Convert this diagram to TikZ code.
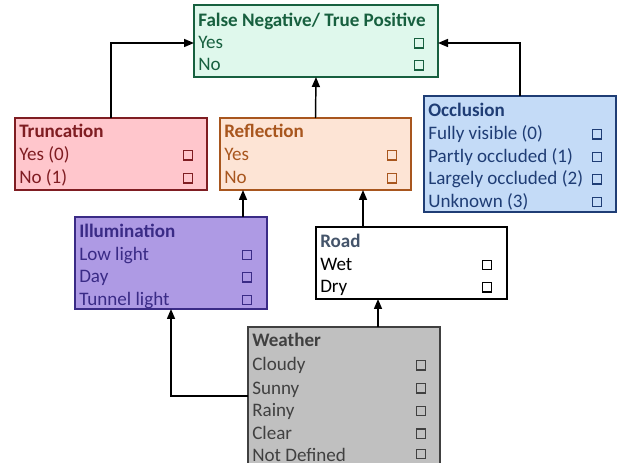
\documentclass[tikz,border=0pt]{standalone}
\usepackage{fontspec}
\setmainfont{Carlito}
\usetikzlibrary{arrows.meta,calc}
\definecolor{fnF}{HTML}{DFF8EC}
\definecolor{fnT}{HTML}{17603F}
\definecolor{trF}{HTML}{FFC6CC}
\definecolor{trT}{HTML}{7F1D22}
\definecolor{reF}{HTML}{FDE4D5}
\definecolor{reT}{HTML}{A8561E}
\definecolor{ilF}{HTML}{AE9AE4}
\definecolor{ilT}{HTML}{3A2B86}
\definecolor{ocF}{HTML}{C4DBF7}
\definecolor{ocT}{HTML}{1F3D75}
\definecolor{roT}{HTML}{44546A}
\definecolor{weF}{HTML}{C0C0C0}
\definecolor{weT}{HTML}{404040}
\newcommand\mkbox[6]{\node[box,#6,minimum width={(#4-#2)*0.75pt},minimum height={(#5-#3)*0.75pt}] (#1) at (#2,#3) {};}
\begin{document}
\begin{tikzpicture}[x=0.75pt,y=-0.75pt,
  box/.style={draw, line width=1.3pt, anchor=north west, inner sep=0pt, outer sep=0pt},
  txt/.style={anchor=base west, inner sep=0pt, font=\fontsize{14.3}{17}\selectfont},
  ttl/.style={anchor=base west, inner sep=0pt, font=\fontsize{14.3}{17}\selectfont\bfseries},
  chk/.style={draw, line width=1pt, minimum size=7pt, inner sep=0pt},
  arr/.style={line width=1.1pt, -{Triangle[length=7.5pt,width=6pt]}},
  con/.style={line width=1.1pt}]
\useasboundingbox (0,0) rectangle (625,463);
\clip (0,0) rectangle (625,463);

% False Negative / True Positive
\mkbox{fn}{194}{5}{438}{77}{draw=fnT,fill=fnF}
\node[ttl,text=fnT] (fnt) at (198,27) {False Negative/ True Positive};
\node[txt,text=fnT] (fn1) at (198,49) {Yes};
\node[txt,text=fnT] (fn2) at (198,71) {No};
\node[chk,draw=fnT] (fnc1) at (419,43.5) {};
\node[chk,draw=fnT] (fnc2) at (419,65.5) {};

% Truncation
\mkbox{tr}{15}{118}{207}{190}{draw=trT,fill=trF}
\node[ttl,text=trT] (trt) at (19,138) {Truncation};
\node[txt,text=trT] (tr1) at (19,161) {Yes (0)};
\node[txt,text=trT] (tr2) at (19,184) {No (1)};
\node[chk,draw=trT] (trc1) at (188,155.5) {};
\node[chk,draw=trT] (trc2) at (188,178.5) {};

% Reflection
\mkbox{re}{220}{118}{411}{190}{draw=reT,fill=reF}
\node[ttl,text=reT] (ret) at (224,138) {Reflection};
\node[txt,text=reT] (re1) at (224,161) {Yes};
\node[txt,text=reT] (re2) at (224,184) {No};
\node[chk,draw=reT] (rec1) at (392,155.5) {};
\node[chk,draw=reT] (rec2) at (392,178.5) {};

% Occlusion
\mkbox{oc}{424}{96}{616}{212}{draw=ocT,fill=ocF}
\node[ttl,text=ocT] (oct) at (428,117) {Occlusion};
\node[txt,text=ocT] (oc1) at (428,140) {Fully visible (0)};
\node[txt,text=ocT] (oc2) at (428,162.5) {Partly occluded (1)};
\node[txt,text=ocT] (oc3) at (428,185) {Largely occluded (2)};
\node[txt,text=ocT] (oc4) at (428,207.5) {Unknown (3)};
\node[chk,draw=ocT] (occ1) at (597,134.5) {};
\node[chk,draw=ocT] (occ2) at (597,157) {};
\node[chk,draw=ocT] (occ3) at (597,179.5) {};
\node[chk,draw=ocT] (occ4) at (597,202) {};

% Illumination
\mkbox{il}{75}{217}{267}{309}{draw=ilT,fill=ilF}
\node[ttl,text=ilT] (ilt) at (79,238) {Illumination};
\node[txt,text=ilT] (il1) at (79,260.5) {Low light};
\node[txt,text=ilT] (il2) at (79,283) {Day};
\node[txt,text=ilT] (il3) at (79,305.5) {Tunnel light};
\node[chk,draw=ilT] (ilc1) at (247,255) {};
\node[chk,draw=ilT] (ilc2) at (247,277.5) {};
\node[chk,draw=ilT] (ilc3) at (247,300) {};

% Road
\mkbox{ro}{316}{227}{507}{299}{draw=black,fill=white}
\node[ttl,text=roT] (rot) at (320,248) {Road};
\node[txt] (ro1) at (320,270.5) {Wet};
\node[txt] (ro2) at (320,293) {Dry};
\node[chk,draw=black] (roc1) at (487,265) {};
\node[chk,draw=black] (roc2) at (487,287.5) {};

% Weather
\mkbox{we}{248}{327}{440}{520}{draw=weT,fill=weF}
\node[ttl,text=weT] (wet) at (252,347) {Weather};
\node[txt,text=weT] (we1) at (252,371) {Cloudy};
\node[txt,text=weT] (we2) at (252,394) {Sunny};
\node[txt,text=weT] (we3) at (252,416.5) {Rainy};
\node[txt,text=weT] (we4) at (252,439) {Clear};
\node[txt,text=weT] (we5) at (252,461) {Not Defined};
\node[chk,draw=weT] (wec1) at (421,365.5) {};
\node[chk,draw=weT] (wec2) at (421,388.5) {};
\node[chk,draw=weT] (wec3) at (421,411) {};
\node[chk,draw=weT] (wec4) at (421,433.5) {};
\node[chk,draw=weT] (wec5) at (421,454) {};

% connectors
\draw[arr] (tr.north) |- ([yshift=-1.5pt]fn.west);
\draw[arr] (oc.north) |- ([yshift=-1.5pt]fn.east);
\draw[arr] (re.north) -- (fn.south);
\coordinate (ilTop) at ($(il.north east)+(-24,0)$);
\draw[arr] (ilTop) -- (ilTop |- re.south);
\coordinate (roTop) at ($(ro.north west)+(47,0)$);
\draw[arr] (roTop) -- (roTop |- re.south);
\coordinate (weTop) at ($(we.north west)+(130,0)$);
\draw[arr] (weTop) -- (weTop |- ro.south);
\coordinate (weLeft) at ($(we.north west)+(0,69)$);
\draw[arr] (weLeft) -| (il.south);
\end{tikzpicture}
\end{document}
